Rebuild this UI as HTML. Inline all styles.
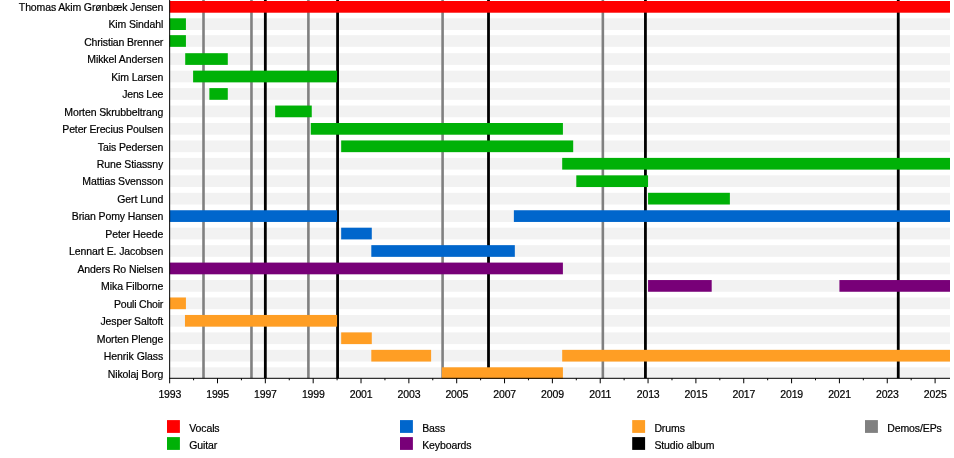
<!DOCTYPE html>
<html><head><meta charset="utf-8"><title>Timeline</title>
<style>html,body{margin:0;padding:0;background:#fff}svg{display:block}text{font-family:"Liberation Sans",Arial,sans-serif;font-size:10.5px;fill:#000;stroke:#000;stroke-width:0.2px}</style></head>
<body>
<svg width="954" height="458" viewBox="0 0 954 458">
<rect width="954" height="458" fill="#fff"/>
<g fill="#f2f2f2">
<rect x="169.66" y="1.00" width="780.34" height="11.70"/>
<rect x="169.66" y="18.30" width="780.34" height="11.70"/>
<rect x="169.66" y="35.15" width="780.34" height="11.70"/>
<rect x="169.66" y="53.20" width="780.34" height="11.70"/>
<rect x="169.66" y="70.65" width="780.34" height="11.70"/>
<rect x="169.66" y="88.10" width="780.34" height="11.70"/>
<rect x="169.66" y="105.55" width="780.34" height="11.70"/>
<rect x="169.66" y="123.00" width="780.34" height="11.70"/>
<rect x="169.66" y="140.45" width="780.34" height="11.70"/>
<rect x="169.66" y="157.90" width="780.34" height="11.70"/>
<rect x="169.66" y="175.35" width="780.34" height="11.70"/>
<rect x="169.66" y="192.80" width="780.34" height="11.70"/>
<rect x="169.66" y="210.25" width="780.34" height="11.70"/>
<rect x="169.66" y="227.70" width="780.34" height="11.70"/>
<rect x="169.66" y="245.15" width="780.34" height="11.70"/>
<rect x="169.66" y="262.60" width="780.34" height="11.70"/>
<rect x="169.66" y="280.05" width="780.34" height="11.70"/>
<rect x="169.66" y="297.50" width="780.34" height="11.70"/>
<rect x="169.66" y="314.95" width="780.34" height="11.70"/>
<rect x="169.66" y="332.40" width="780.34" height="11.70"/>
<rect x="169.66" y="349.85" width="780.34" height="11.70"/>
<rect x="169.66" y="367.30" width="780.34" height="11.70"/>
</g>
<g stroke="#808080" stroke-width="2.6">
<line x1="203.51" y1="0" x2="203.51" y2="378.30"/>
<line x1="251.47" y1="0" x2="251.47" y2="378.30"/>
<line x1="308.40" y1="0" x2="308.40" y2="378.30"/>
<line x1="442.59" y1="0" x2="442.59" y2="378.30"/>
<line x1="602.85" y1="0" x2="602.85" y2="378.30"/>
</g>
<g stroke="#000" stroke-width="2.8">
<line x1="265.34" y1="0" x2="265.34" y2="378.30"/>
<line x1="337.58" y1="0" x2="337.58" y2="378.30"/>
<line x1="488.51" y1="0" x2="488.51" y2="378.30"/>
<line x1="645.43" y1="0" x2="645.43" y2="378.30"/>
<line x1="898.26" y1="0" x2="898.26" y2="378.30"/>
</g>
<rect x="169.66" y="1.00" width="780.34" height="11.70" fill="#ff0000"/>
<rect x="169.66" y="18.30" width="16.27" height="11.70" fill="#00b107"/>
<rect x="169.66" y="35.15" width="16.27" height="11.70" fill="#00b107"/>
<rect x="185.21" y="53.20" width="42.58" height="11.70" fill="#00b107"/>
<rect x="193.10" y="70.65" width="144.00" height="11.70" fill="#00b107"/>
<rect x="209.37" y="88.10" width="18.42" height="11.70" fill="#00b107"/>
<rect x="275.15" y="105.55" width="36.60" height="11.70" fill="#00b107"/>
<rect x="310.79" y="123.00" width="252.12" height="11.70" fill="#00b107"/>
<rect x="341.17" y="140.45" width="232.02" height="11.70" fill="#00b107"/>
<rect x="562.19" y="157.90" width="387.81" height="11.70" fill="#00b107"/>
<rect x="576.30" y="175.35" width="71.76" height="11.70" fill="#00b107"/>
<rect x="648.06" y="192.80" width="81.81" height="11.70" fill="#00b107"/>
<rect x="169.66" y="210.25" width="167.44" height="11.70" fill="#0066cc"/>
<rect x="513.87" y="210.25" width="436.13" height="11.70" fill="#0066cc"/>
<rect x="341.17" y="227.70" width="30.62" height="11.70" fill="#0066cc"/>
<rect x="371.31" y="245.15" width="143.52" height="11.70" fill="#0066cc"/>
<rect x="169.66" y="262.60" width="393.24" height="11.70" fill="#780078"/>
<rect x="648.06" y="280.05" width="63.63" height="11.70" fill="#780078"/>
<rect x="839.42" y="280.05" width="110.58" height="11.70" fill="#780078"/>
<rect x="169.66" y="297.50" width="16.27" height="11.70" fill="#ff9e24"/>
<rect x="184.97" y="314.95" width="152.13" height="11.70" fill="#ff9e24"/>
<rect x="341.17" y="332.40" width="30.62" height="11.70" fill="#ff9e24"/>
<rect x="371.31" y="349.85" width="59.80" height="11.70" fill="#ff9e24"/>
<rect x="562.19" y="349.85" width="387.81" height="11.70" fill="#ff9e24"/>
<rect x="441.87" y="367.30" width="121.04" height="11.70" fill="#ff9e24"/>
<g stroke="#000" stroke-width="1">
<line x1="169.66" y1="0" x2="169.66" y2="378.80"/>
<line x1="169.16" y1="378.30" x2="950.00" y2="378.30"/>
<line x1="169.66" y1="378.30" x2="169.66" y2="383.30"/>
<line x1="193.58" y1="378.30" x2="193.58" y2="380.30"/>
<line x1="217.50" y1="378.30" x2="217.50" y2="383.30"/>
<line x1="241.42" y1="378.30" x2="241.42" y2="380.30"/>
<line x1="265.34" y1="378.30" x2="265.34" y2="383.30"/>
<line x1="289.26" y1="378.30" x2="289.26" y2="380.30"/>
<line x1="313.18" y1="378.30" x2="313.18" y2="383.30"/>
<line x1="337.10" y1="378.30" x2="337.10" y2="380.30"/>
<line x1="361.02" y1="378.30" x2="361.02" y2="383.30"/>
<line x1="384.94" y1="378.30" x2="384.94" y2="380.30"/>
<line x1="408.86" y1="378.30" x2="408.86" y2="383.30"/>
<line x1="432.78" y1="378.30" x2="432.78" y2="380.30"/>
<line x1="456.70" y1="378.30" x2="456.70" y2="383.30"/>
<line x1="480.62" y1="378.30" x2="480.62" y2="380.30"/>
<line x1="504.54" y1="378.30" x2="504.54" y2="383.30"/>
<line x1="528.46" y1="378.30" x2="528.46" y2="380.30"/>
<line x1="552.38" y1="378.30" x2="552.38" y2="383.30"/>
<line x1="576.30" y1="378.30" x2="576.30" y2="380.30"/>
<line x1="600.22" y1="378.30" x2="600.22" y2="383.30"/>
<line x1="624.14" y1="378.30" x2="624.14" y2="380.30"/>
<line x1="648.06" y1="378.30" x2="648.06" y2="383.30"/>
<line x1="671.98" y1="378.30" x2="671.98" y2="380.30"/>
<line x1="695.90" y1="378.30" x2="695.90" y2="383.30"/>
<line x1="719.82" y1="378.30" x2="719.82" y2="380.30"/>
<line x1="743.74" y1="378.30" x2="743.74" y2="383.30"/>
<line x1="767.66" y1="378.30" x2="767.66" y2="380.30"/>
<line x1="791.58" y1="378.30" x2="791.58" y2="383.30"/>
<line x1="815.50" y1="378.30" x2="815.50" y2="380.30"/>
<line x1="839.42" y1="378.30" x2="839.42" y2="383.30"/>
<line x1="863.34" y1="378.30" x2="863.34" y2="380.30"/>
<line x1="887.26" y1="378.30" x2="887.26" y2="383.30"/>
<line x1="911.18" y1="378.30" x2="911.18" y2="380.30"/>
<line x1="935.10" y1="378.30" x2="935.10" y2="383.30"/>
</g>
<g text-anchor="middle" letter-spacing="-0.15">
<text x="169.76" y="397.6">1993</text>
<text x="217.60" y="397.6">1995</text>
<text x="265.44" y="397.6">1997</text>
<text x="313.28" y="397.6">1999</text>
<text x="361.12" y="397.6">2001</text>
<text x="408.96" y="397.6">2003</text>
<text x="456.80" y="397.6">2005</text>
<text x="504.64" y="397.6">2007</text>
<text x="552.48" y="397.6">2009</text>
<text x="600.32" y="397.6">2011</text>
<text x="648.16" y="397.6">2013</text>
<text x="696.00" y="397.6">2015</text>
<text x="743.84" y="397.6">2017</text>
<text x="791.68" y="397.6">2019</text>
<text x="839.52" y="397.6">2021</text>
<text x="887.36" y="397.6">2023</text>
<text x="935.20" y="397.6">2025</text>
</g>
<g text-anchor="end">
<text x="163.2" y="10.75" letter-spacing="-0.127">Thomas Akim Grønbæk Jensen</text>
<text x="163.2" y="28.22" letter-spacing="-0.118">Kim Sindahl</text>
<text x="163.2" y="45.69" letter-spacing="-0.159">Christian Brenner</text>
<text x="163.2" y="63.16" letter-spacing="-0.073">Mikkel Andersen</text>
<text x="163.2" y="80.63" letter-spacing="-0.110">Kim Larsen</text>
<text x="163.2" y="98.10" letter-spacing="-0.212">Jens Lee</text>
<text x="163.2" y="115.57" letter-spacing="-0.105">Morten Skrubbeltrang</text>
<text x="163.2" y="133.04" letter-spacing="-0.143">Peter Erecius Poulsen</text>
<text x="163.2" y="150.51" letter-spacing="-0.085">Tais Pedersen</text>
<text x="163.2" y="167.98" letter-spacing="-0.092">Rune Stiassny</text>
<text x="163.2" y="185.45" letter-spacing="-0.125">Mattias Svensson</text>
<text x="163.2" y="202.92" letter-spacing="-0.089">Gert Lund</text>
<text x="163.2" y="220.39" letter-spacing="-0.118">Brian Pomy Hansen</text>
<text x="163.2" y="237.86" letter-spacing="-0.100">Peter Heede</text>
<text x="163.2" y="255.33" letter-spacing="-0.116">Lennart E. Jacobsen</text>
<text x="163.2" y="272.80" letter-spacing="-0.106">Anders Ro Nielsen</text>
<text x="163.2" y="290.27" letter-spacing="-0.069">Mika Filborne</text>
<text x="163.2" y="307.74" letter-spacing="-0.191">Pouli Choir</text>
<text x="163.2" y="325.21" letter-spacing="-0.100">Jesper Saltoft</text>
<text x="163.2" y="342.68" letter-spacing="-0.146">Morten Plenge</text>
<text x="163.2" y="360.15" letter-spacing="-0.058">Henrik Glass</text>
<text x="163.2" y="377.62" letter-spacing="-0.092">Nikolaj Borg</text>
</g>
<rect x="167.00" y="420.10" width="12.9" height="12.8" fill="#ff0000"/>
<text x="189.20" y="431.70" letter-spacing="-0.1">Vocals</text>
<rect x="167.00" y="437.10" width="12.9" height="12.8" fill="#00b107"/>
<text x="189.20" y="448.70" letter-spacing="-0.1">Guitar</text>
<rect x="400.00" y="420.10" width="12.9" height="12.8" fill="#0066cc"/>
<text x="422.20" y="431.70" letter-spacing="-0.1">Bass</text>
<rect x="400.00" y="437.10" width="12.9" height="12.8" fill="#780078"/>
<text x="422.20" y="448.70" letter-spacing="-0.1">Keyboards</text>
<rect x="632.20" y="420.10" width="12.9" height="12.8" fill="#ff9e24"/>
<text x="654.40" y="431.70" letter-spacing="-0.1">Drums</text>
<rect x="632.20" y="437.10" width="12.9" height="12.8" fill="#000"/>
<text x="654.40" y="448.70" letter-spacing="-0.1">Studio album</text>
<rect x="865.00" y="420.10" width="12.9" height="12.8" fill="#808080"/>
<text x="887.20" y="431.70" letter-spacing="-0.1">Demos/EPs</text>
</svg>
</body></html>
